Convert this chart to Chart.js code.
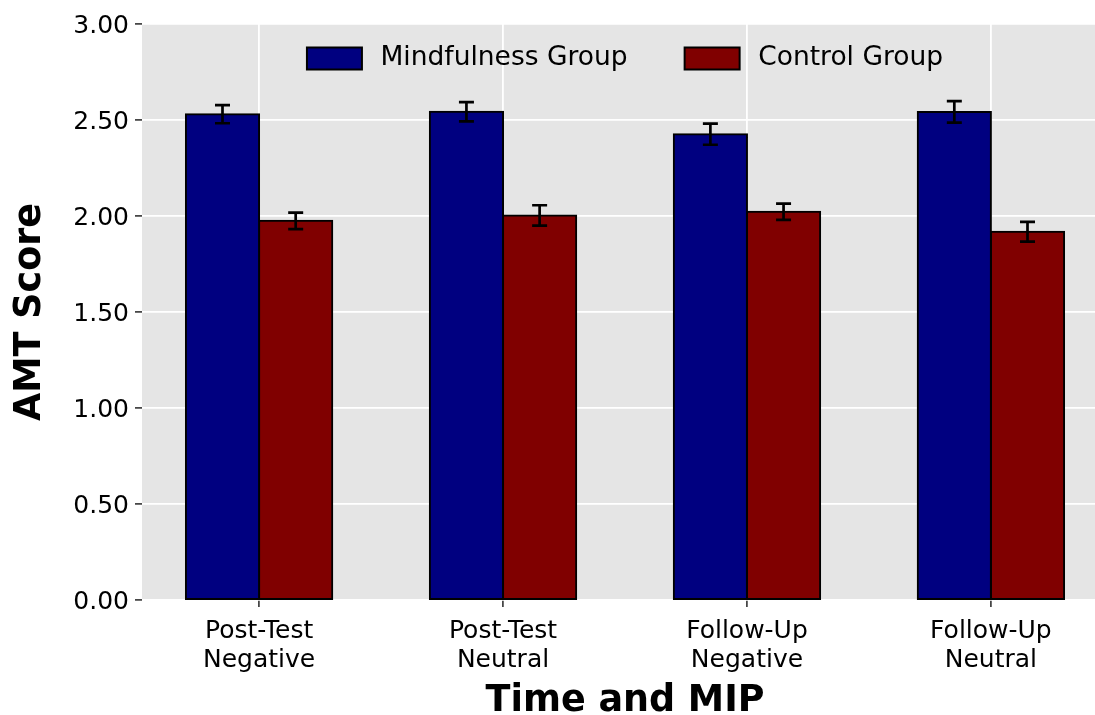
<!DOCTYPE html>
<html>
<head>
<meta charset="utf-8">
<script src="https://cdn.jsdelivr.net/npm/chart.js@4.4.0/dist/chart.umd.min.js"></script>
<style>
  html, body { margin: 0; padding: 0; background: #ffffff; overflow: hidden; width: 1095px; height: 715px; }
  canvas { display: block; }
</style>
</head>
<body>
<canvas id="c" width="1108" height="715"></canvas>
<script>
// ---- data ----
const categories = ['Post-Test Negative', 'Post-Test Neutral', 'Follow-Up Negative', 'Follow-Up Neutral'];
const xTickLabels = [['Post-Test', 'Negative'], ['Post-Test', 'Neutral'], ['Follow-Up', 'Negative'], ['Follow-Up', 'Neutral']];
const seriesNames = ['Mindfulness Group', 'Control Group'];
const mindfulnessMeans = [2.530, 2.543, 2.426, 2.542];
const mindfulnessErr = [0.047, 0.050, 0.055, 0.056];
const controlMeans = [1.975, 2.003, 2.022, 1.918];
const controlErr = [0.043, 0.053, 0.042, 0.051];
const yTickValues = [0, 0.5, 1.0, 1.5, 2.0, 2.5, 3.0];
const yTickLabels = ['0.00', '0.50', '1.00', '1.50', '2.00', '2.50', '3.00'];

// ---- styling ----
Chart.defaults.font.family = "'DejaVu Sans', sans-serif";
Chart.defaults.color = '#000000';

const BAR_W = 0.3;                       // bar width in category units
const spanX = (categories.length - 1) + 2 * BAR_W;
const padX = 0.05 * spanX;
const xMin = -BAR_W - padX;
const xMax = (categories.length - 1) + BAR_W + padX;

const LEGEND_ROW_Y = 45.25;

const bgPlugin = {
  id: 'bg',
  beforeDraw(chart) {
    const { ctx, chartArea: a } = chart;
    ctx.save();
    ctx.fillStyle = '#ffffff';
    ctx.fillRect(0, 0, chart.width, chart.height);
    ctx.fillStyle = '#e5e5e5';
    ctx.fillRect(a.left, a.top, a.right - a.left, a.bottom - a.top);
    ctx.restore();
  }
};

const legendPlacer = {
  id: 'legendPlacer',
  afterInit(chart) {
    const lg = chart.legend;
    if (lg) {
      lg._layers = () => [{ z: 1, draw: (ca) => lg.draw(ca) }];
    }
  },
  afterLayout(chart) {
    const lg = chart.legend, a = chart.chartArea;
    if (!lg) return;
    const pad = lg.options.labels.padding;
    lg.left = a.left; lg.right = a.right; lg.width = a.right - a.left;
    lg.top = LEGEND_ROW_Y - pad; lg.bottom = lg.top + 200; lg.height = 200;
  }
};

const errorBars = {
  id: 'errorBars',
  afterDatasetsDraw(chart) {
    const { ctx } = chart;
    const yScale = chart.scales.y;
    ctx.save();
    ctx.strokeStyle = '#000000';
    ctx.lineWidth = 2.7;
    ctx.lineCap = 'butt';
    chart.data.datasets.forEach((ds, d) => {
      const meta = chart.getDatasetMeta(d);
      meta.data.forEach((el, i) => {
        const m = ds.data[i].y, e = ds.errors[i];
        const yt = yScale.getPixelForValue(m + e);
        const yb = yScale.getPixelForValue(m - e);
        const x = el.x, cw = 7.5;
        ctx.beginPath();
        ctx.moveTo(x, yt); ctx.lineTo(x, yb);
        ctx.moveTo(x - cw, yt); ctx.lineTo(x + cw, yt);
        ctx.moveTo(x - cw, yb); ctx.lineTo(x + cw, yb);
        ctx.stroke();
      });
    });
    ctx.restore();
  }
};

const toPoints = (vals) => vals.map((v, i) => ({ x: i, y: v }));

new Chart(document.getElementById('c'), {
  type: 'bar',
  data: {
    datasets: [
      {
        label: seriesNames[0],
        data: toPoints(mindfulnessMeans),
        errors: mindfulnessErr,
        backgroundColor: '#000080',
        borderColor: '#000000',
        borderWidth: 2,
        borderSkipped: false,
        inflateAmount: 1,
        categoryPercentage: 2 * BAR_W,
        barPercentage: 1.0
      },
      {
        label: seriesNames[1],
        data: toPoints(controlMeans),
        errors: controlErr,
        backgroundColor: '#800000',
        borderColor: '#000000',
        borderWidth: 2,
        borderSkipped: false,
        inflateAmount: 1,
        categoryPercentage: 2 * BAR_W,
        barPercentage: 1.0
      }
    ]
  },
  options: {
    responsive: false,
    devicePixelRatio: 1,
    animation: false,
    layout: { padding: { top: 23, left: 0, right: 0, bottom: 0 } },
    plugins: {
      tooltip: { enabled: false },
      legend: {
        display: true,
        position: 'top',
        maxHeight: 1,
        labels: {
          boxWidth: 55,
          boxHeight: 22,
          padding: 57,
          color: '#000000',
          font: { size: 26.5, family: "'DejaVu Sans', sans-serif" },
          generateLabels(chart) {
            const items = Chart.defaults.plugins.legend.labels.generateLabels(chart);
            items.forEach(it => { it.text = '\u2009' + it.text; });
            return items;
          }
        }
      }
    },
    scales: {
      x: {
        type: 'linear',
        min: xMin,
        max: xMax,
        offset: false,
        afterBuildTicks(s) { s.ticks = categories.map((_, i) => ({ value: i })); },
        afterFit(s) { s.height = 115; },
        border: { display: false },
        grid: {
          offset: false,
          color: '#ffffff',
          lineWidth: 1.8,
          drawTicks: true,
          tickLength: 7,
          tickColor: '#333333',
          tickWidth: 1.6
        },
        ticks: {
          autoSkip: false,
          maxRotation: 0,
          padding: 10,
          color: '#000000',
          font: { size: 25, lineHeight: '29px' },
          callback: (v, i) => xTickLabels[i]
        },
        title: {
          display: true,
          text: 'Time and MIP',
          color: '#000000',
          font: { size: 36.5, weight: 'bold', lineHeight: '26px' },
          padding: { top: 0, bottom: 0 }
        }
      },
      y: {
        min: 0,
        max: 3,
        afterBuildTicks(s) { s.ticks = yTickValues.map(v => ({ value: v })); },
        afterFit(s) { s.width = 142; },
        border: { display: false },
        grid: {
          color: '#ffffff',
          lineWidth: 1.8,
          drawTicks: true,
          tickLength: 7,
          tickColor: '#333333',
          tickWidth: 1.6
        },
        ticks: {
          padding: 6,
          labelOffset: 2.5,
          color: '#000000',
          font: { size: 25 },
          callback: (v, i) => yTickLabels[i]
        },
        title: {
          display: true,
          text: 'AMT Score',
          color: '#000000',
          font: { size: 36.5, weight: 'bold', lineHeight: '26px' },
          padding: { top: 18, bottom: 0 }
        }
      }
    }
  },
  plugins: [bgPlugin, legendPlacer, errorBars]
});
</script>
</body>
</html>
